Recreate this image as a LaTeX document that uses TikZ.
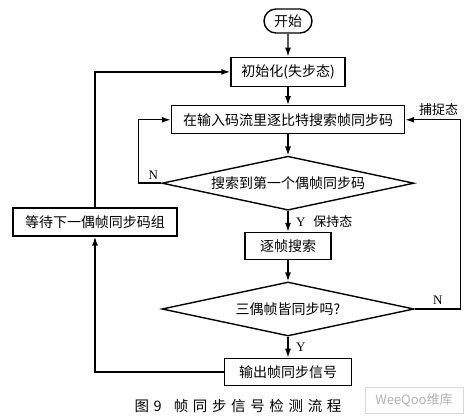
\documentclass[tikz,border=0pt]{standalone}
\usepackage{fontspec}
\setmainfont{Liberation Serif}
\newfontfamily\cjk{Noto Sans CJK SC}
\newfontfamily\cjkcap{Noto Sans CJK SC}[LetterSpace=32]
\usetikzlibrary{arrows.meta,positioning,shapes.geometric,shapes.misc}

\begin{document}
\begin{tikzpicture}[x=1pt, y=-1pt,
  node distance=21pt,
  box/.style={draw, line width=1.4pt, minimum height=28pt, inner sep=2pt,
              font=\cjk\fontsize{14}{16}\selectfont},
  dec/.style={draw, diamond, aspect=4.6, line width=1.4pt, minimum width=252pt, minimum height=54pt,
              inner sep=0pt, font=\cjk\fontsize{14}{16}\selectfont},
  arr/.style={-{Latex[length=9pt,width=6pt]}, line width=1.4pt},
  lbl/.style={font=\fontsize{13}{15}\selectfont}
]
\useasboundingbox (0,0) rectangle (469,419);
\node[box, rounded rectangle, minimum width=52pt, minimum height=24pt] (start) at (288,21) {开始};
\node[box, minimum width=114pt, minimum height=29pt, below=23pt of start] (init) {初始化(失步态)};
\node[box, minimum width=233pt, below=18pt of init] (search) {在输入码流里逐比特搜索帧同步码};
\node[dec, below=of search] (found) {搜索到第一个偶帧同步码};
\node[box, minimum width=86pt, minimum height=27pt, below=of found] (track) {逐帧搜索};
\node[dec, below=of track] (check) {三偶帧皆同步吗?};
\node[box, minimum width=127pt, minimum height=27pt, below=of check] (output) {输出帧同步信号};
\node[box, minimum width=164pt] (wait) at (95,222) {等待下一偶帧同步码组};
\draw[arr] (start) -- (init);
\draw[arr] (init) -- (search);
\draw[arr] (search) -- (found);
\draw[arr] (found) -- node[lbl, right=4pt]{Y\hspace{8pt}{\cjk 保持态}} (track);
\draw[arr] (track) -- (check);
\draw[arr] (check) -- node[lbl, right=4pt]{Y} (output);
\draw[arr] (found.west) -- node[lbl, above, pos=0.35]{N} ++(-23,0) |- (search.west);
\draw[arr] (check.east) -- node[lbl, above]{N} ++(46,0)
  |- node[lbl, above, pos=0.7]{\cjk 捕捉态} (search.east);
\draw[arr] (output.west) -| (wait.south);
\draw[arr] (wait.north) |- (init.west);
\node[font=\cjkcap\fontsize{14.5}{16}\selectfont] (caption) at (238,406) {图9\hspace{12pt}帧同步信号检测流程};
\node[draw=black!15, text=black!30, font=\cjk\itshape\fontsize{13}{15}\selectfont,
      minimum width=98pt, minimum height=26pt] (mark) at (414,400) {WeeQoo维库};
\end{tikzpicture}
\end{document}
